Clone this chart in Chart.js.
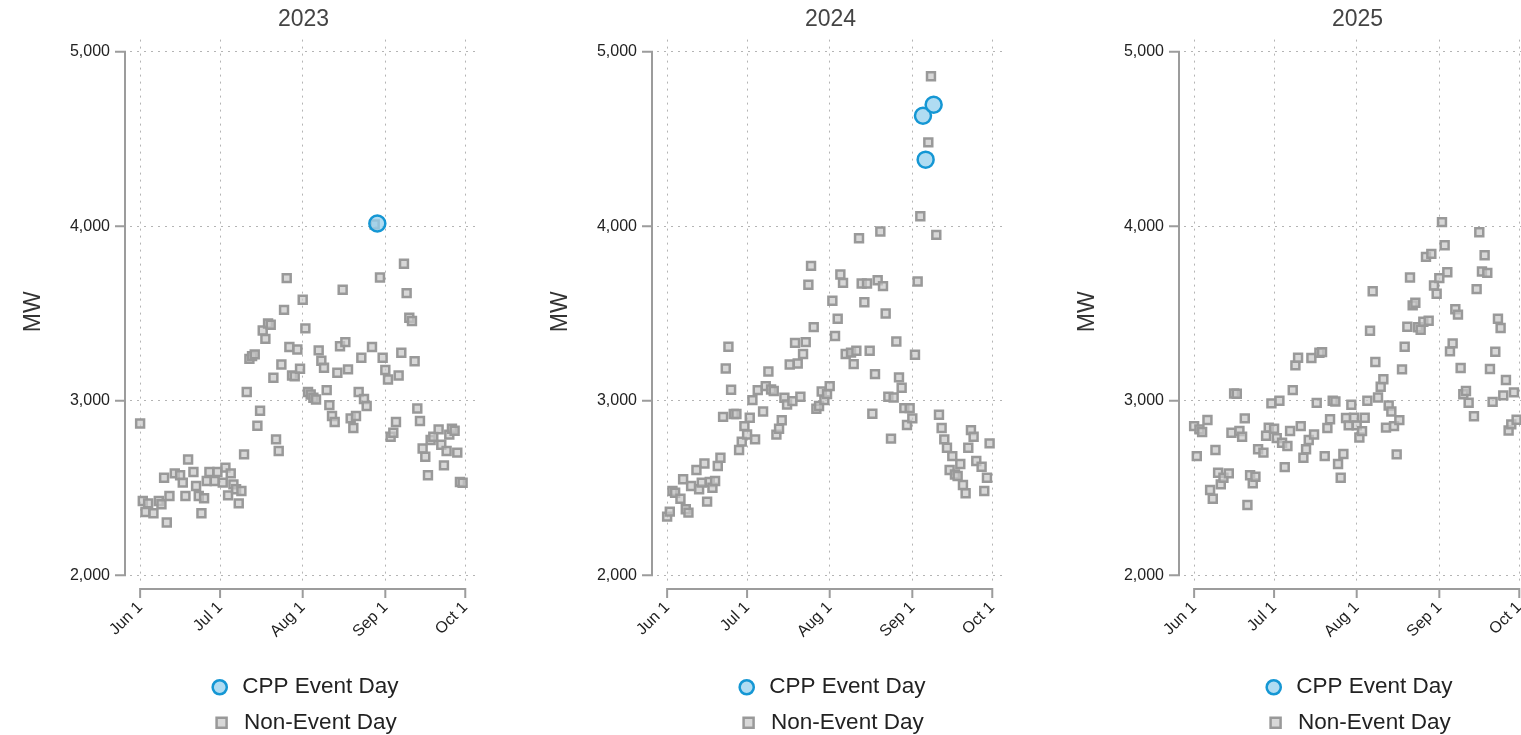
<!DOCTYPE html>
<html>
<head>
<meta charset="utf-8">
<script src="https://cdn.jsdelivr.net/npm/chart.js@4.4.1/dist/chart.umd.min.js"></script>
<style>
  html, body { margin: 0; padding: 0; background: #fff; overflow: hidden; }
  #wrap { position: relative; width: 1521px; height: 735px; overflow: hidden; }
  .panel { position: absolute; top: 0; }
</style>
</head>
<body>
<div id="wrap">
  <canvas id="chart2023" class="panel" width="527" height="744" style="left:0px"></canvas>
  <canvas id="chart2024" class="panel" width="527" height="744" style="left:527px"></canvas>
  <canvas id="chart2025" class="panel" width="527" height="744" style="left:1054px"></canvas>
</div>
<script>
// x = days since Jun 1
const tickDays = [0, 30, 61, 92, 122];
const tickLabels = ['Jun 1', 'Jul 1', 'Aug 1', 'Sep 1', 'Oct 1'];
const mwTicks = [2000, 3000, 4000, 5000];

// daily peak MW, index = day since Jun 1 (null = no square drawn)
const mw2023 = [
    2870, 2426, 2363, 2412, null, 2355, null, 2426, 2407, 2559,
    2302, 2454, null, 2584, null, 2573, 2531, 2454, 2664, null,
    2592, 2512, 2454, 2355, 2441, 2540, 2592, null, 2540, 2592,
    null, 2531, 2617, 2458, 2584, 2521, 2493, 2412, 2483, 2693,
    3050, 3240, 3256, 3266, 2857, 2943, 3403, 3355, 3443, 3436,
    3132, 2779, 2712, 3208, 3521, 3703, 3308, 3145, 3141, 3294,
    3184, 3579, 3415, 3050, 3036, 3017, 3007, 3289, 3229, 3189,
    3061, 2975, 2913, 2878, 3161, 3313, 3636, 3336, 3180, 2899,
    2844, 2913, 3050, 3247, 3010, 2970, null, 3308, 4010, null,
    3707, 3247, 3176, 3122, 2794, 2817, 2878, 3145, 3275, 3785,
    3617, 3476, 3457, 3227, 2956, 2884, 2727, 2679, 2573, 2775,
    2794, null, 2836, 2748, 2630, 2712, 2806, 2840, 2828, 2703,
    2535, 2530
];
const cppDays2023 = [89];
const cppMW2023 = [4016];

const mw2024 = [
    2336, 2365, 2483, 2473, null, 2439, 2550, 2378, 2359, 2512,
    null, 2603, 2493, 2531, 2641, 2422, 2535, 2502, 2540, 2626,
    2674, 2908, 3185, 3310, 3063, 2924, 2924, 2718, 2766, 2855,
    2807, 2903, 3004, 2779, 3061, null, 2939, 3084, 3168, 3065,
    3056, 2806, 2840, 2888, 3017, 2979, 3208, 2998, 3332, 3214,
    3023, 3268, 3336, 3665, 3773, 3422, 2954, 2970, 3053, 3004,
    3038, 3084, 3573, 3371, 3470, 3724, 3676, 3268, null, 3276,
    3210, 3287, 3932, 3672, 3565, 3672, 3287, 2926, 3153, 3691,
    3970, 3657, 3500, 3023, 2783, 3019, 3340, 3134, 3075, 2958,
    2861, 2958, 2899, 3264, 3684, 4058, null, null, 4481, 4860,
    null, 3951, 2920, 2844, 2779, 2731, 2603, 2683, 2578, 2569,
    2638, 2517, 2470, 2731, 2832, 2794, 2655, null, 2622, 2483,
    2559, 2756
];
const cppDays2024 = [96, 97, 100];
const cppMW2024 = [4634, 4382, 4697];

const mw2025 = [
    2855, 2683, 2836, 2821, null, 2890, 2489, 2439, 2718, 2588,
    2521, 2559, null, 2584, 2817, 3042, 3040, 2827, 2794, 2899,
    2403, 2573, 2527, 2565, 2722, null, 2703, 2800, 2846, 2985,
    2840, 2786, 3000, 2760, 2620, 2741, 2827, 3061, 3203, 3247,
    2855, 2674, 2722, 2775, 3245, 2807, 2988, 3275, 3279, 2683,
    2844, 2894, 3000, 2996, 2638, 2559, 2695, 2901, 2859, 2977,
    2903, 2859, 2790, 2826, 2903, 3000, 3401, 3628, 3222, 3019,
    3080, 3123, 2846, 2973, 2939, 2855, 2693, 2889, 3180, 3310,
    3424, 3707, 3547, 3562, 3421, 3407, 3453, 3825, 3459, 3842,
    3661, 3613, 3703, 4024, 3891, 3737, 3283, 3329, 3525, 3494,
    3188, 3037, 3056, 2989, null, 2911, 3640, 3966, 3741, 3834,
    3733, 3182, 2994, 3281, 3470, 3417, 3031, 3119, 2830, 2865,
    3048, 2891
];
const cppDays2025 = [];
const cppMW2025 = [];

Chart.defaults.font.family = 'Arial, "Liberation Sans", sans-serif';

const axisGray = '#9c9c9c';
const gridGray = '#b4b4b4';

// offset axis lines that only span the tick range
const rangeFrame = {
    id: 'rangeFrame',
    afterDraw(chart) {
        const { ctx, chartArea, scales: { x, y } } = chart;
        const ax = chartArea.left - 5;
        const ay = chartArea.bottom + 5;
        ctx.save();
        ctx.strokeStyle = axisGray;
        ctx.lineWidth = 2;
        ctx.lineCap = 'square';
        ctx.beginPath();
        ctx.moveTo(ax, y.getPixelForValue(mwTicks[0]));
        ctx.lineTo(ax, y.getPixelForValue(mwTicks[mwTicks.length - 1]));
        mwTicks.forEach(v => {
            const py = y.getPixelForValue(v);
            ctx.moveTo(ax - 9, py);
            ctx.lineTo(ax, py);
        });
        ctx.moveTo(x.getPixelForValue(tickDays[0]), ay);
        ctx.lineTo(x.getPixelForValue(tickDays[tickDays.length - 1]), ay);
        tickDays.forEach(d => {
            const px = x.getPixelForValue(d);
            ctx.moveTo(px, ay);
            ctx.lineTo(px, ay + 8);
        });
        ctx.stroke();
        ctx.restore();
    }
};

function toPoints(values) {
    const pts = [];
    values.forEach((v, i) => {
        if (v !== null) pts.push({ x: i, y: v });
    });
    return pts;
}

function renderYear(id, year, mw, cppDays, cppMW) {

    const ctx = document.getElementById(id);

    new Chart(ctx, {
        type: 'scatter',
        data: {
            datasets: [{
                label: 'CPP Event Day',
                data: cppDays.map((d, i) => ({ x: d, y: cppMW[i] })),
                pointStyle: 'circle',
                pointRadius: 8,
                pointHoverRadius: 8,
                pointBackgroundColor: 'rgba(150,208,238,0.75)',
                pointBorderColor: '#1597d4',
                pointBorderWidth: 2.5
            }, {
                label: 'Non-Event Day',
                data: toPoints(mw),
                pointStyle: 'rect',
                pointRadius: 5.6,
                pointHoverRadius: 5.6,
                pointBackgroundColor: 'rgba(200,200,200,0.7)',
                pointBorderColor: '#999999',
                pointBorderWidth: 2.5
            }]
        },
        options: {
            responsive: false,
            animation: false,
            layout: { padding: { right: 50 } },
            plugins: {
                title: {
                    display: true,
                    text: year,
                    fullSize: false,
                    color: '#444',
                    font: { size: 23, weight: 'normal' },
                    padding: { top: 6, bottom: 6 }
                },
                legend: {
                    position: 'bottom',
                    fullSize: false,
                    labels: {
                        usePointStyle: true,
                        boxHeight: 10,
                        padding: 13,
                        color: '#222',
                        font: { size: 22.5 }
                    }
                },
                tooltip: { enabled: false }
            },
            scales: {
                x: {
                    type: 'linear',
                    min: -3.8,
                    max: 126.4,
                    afterBuildTicks: s => { s.ticks = tickDays.map(d => ({ value: d })); },
                    afterFit: s => { s.height = 79; },
                    grid: { color: gridGray, drawTicks: false },
                    border: { display: false, dash: [2, 5] },
                    ticks: {
                        autoSkip: false,
                        minRotation: 45,
                        maxRotation: 45,
                        padding: 14,
                        color: '#222',
                        font: { size: 16 },
                        callback: (v, i) => tickLabels[i]
                    }
                },
                y: {
                    min: 1950,
                    max: 5070,
                    afterBuildTicks: s => { s.ticks = mwTicks.map(v => ({ value: v })); },
                    afterFit: s => { s.width = 130; },
                    grid: { color: gridGray, drawTicks: false },
                    border: { display: false, dash: [2, 5] },
                    ticks: {
                        padding: 20,
                        color: '#222',
                        font: { size: 16 },
                        callback: v => v.toLocaleString('en-US')
                    },
                    title: {
                        display: true,
                        text: 'MW',
                        color: '#333',
                        font: { size: 23 },
                        padding: { top: 20, bottom: 0 }
                    }
                }
            }
        },
        plugins: [rangeFrame]
    });
}

renderYear('chart2023', '2023', mw2023, cppDays2023, cppMW2023);
renderYear('chart2024', '2024', mw2024, cppDays2024, cppMW2024);
renderYear('chart2025', '2025', mw2025, cppDays2025, cppMW2025);
</script>
</body>
</html>
